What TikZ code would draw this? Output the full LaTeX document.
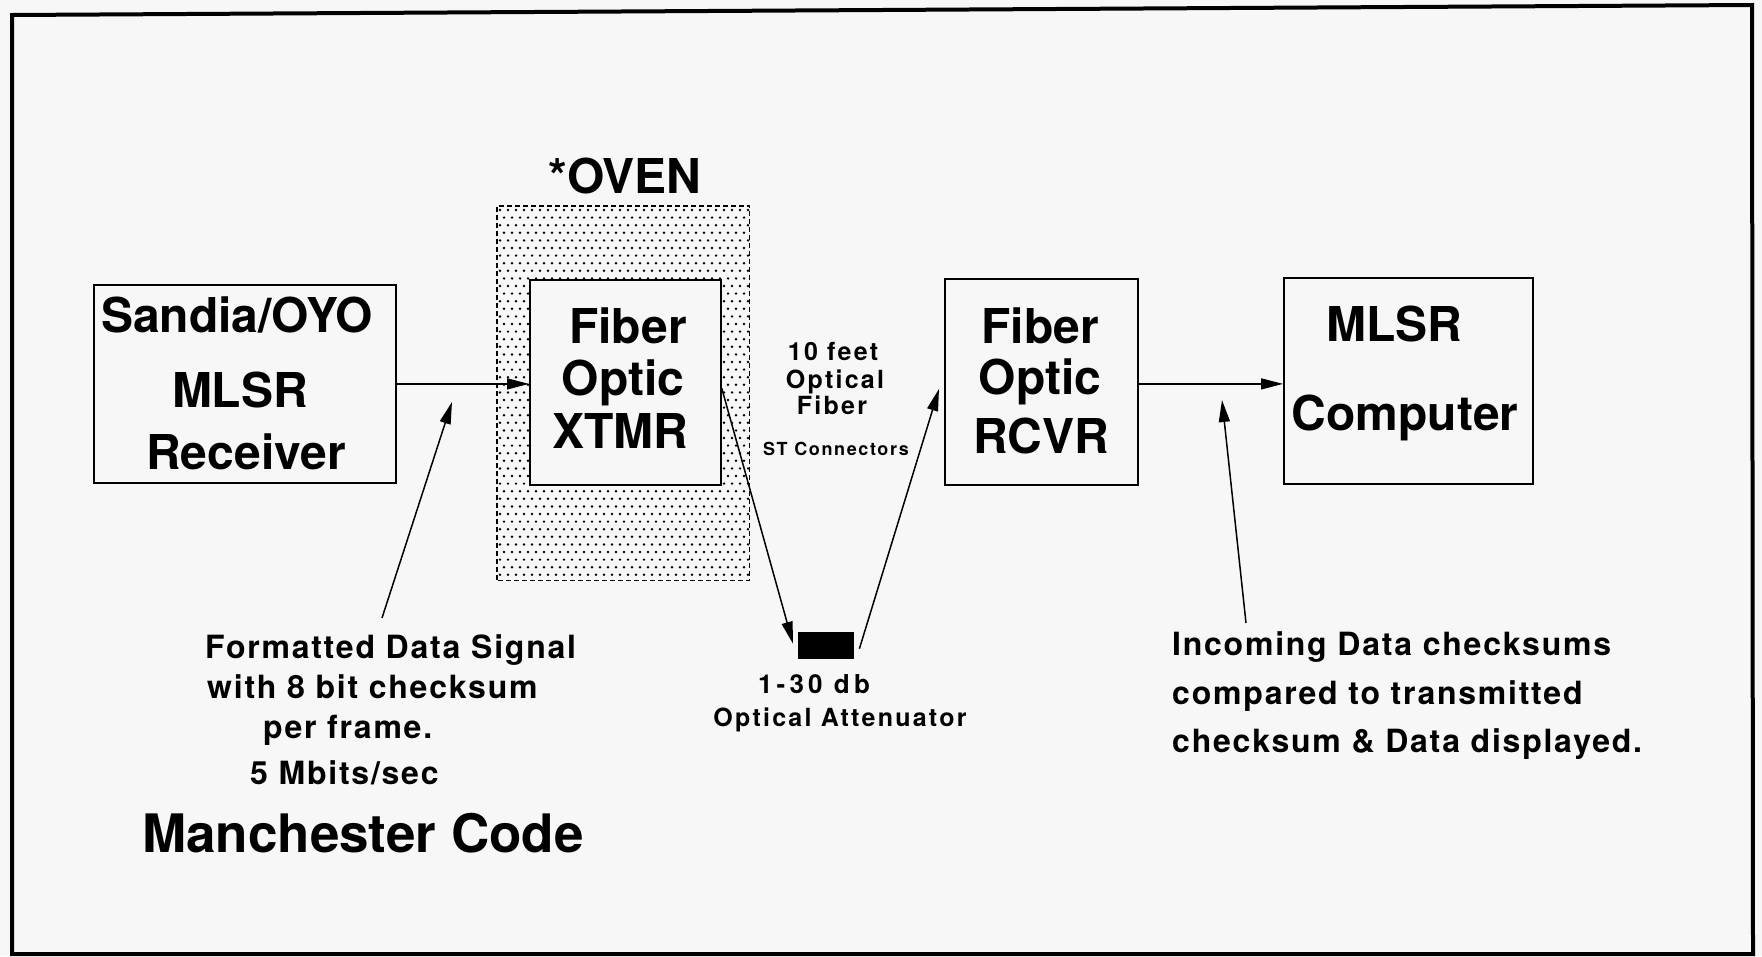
\documentclass[tikz,border=0pt]{standalone}
\usepackage{fontspec}
\setmainfont{TeX Gyre Heros}
\newfontfamily\hvm[LetterSpace=5.5]{TeX Gyre Heros}
\newfontfamily\hvs[LetterSpace=9]{TeX Gyre Heros}
\newfontfamily\hvw[LetterSpace=16]{TeX Gyre Heros}
\usetikzlibrary{arrows.meta}
\definecolor{bg}{RGB}{247,247,247}
\begin{document}
\begin{tikzpicture}[x=1pt,y=-1pt,
  blk/.style={draw, line width=1.8pt, fill=bg, inner sep=0, anchor=north west},
  big/.style={font=\fontsize{48}{52}\selectfont\bfseries, anchor=base, inner sep=0},
  note/.style={font=\hvm\fontsize{32}{36}\selectfont\bfseries, anchor=base west, inner sep=0},
  small/.style={font=\hvs\fontsize{25}{28}\selectfont\bfseries, anchor=base, inner sep=0},
  tiny/.style={font=\hvs\fontsize{18}{20}\selectfont\bfseries, anchor=base, inner sep=0},
  arr/.style={line width=1.5pt, -{Triangle[length=22pt,width=11pt]}}]
\useasboundingbox (0,0) rectangle (1762,956);
\fill[bg] (0,0) rectangle (1762,956);
\draw[line width=4pt] (12,15) -- (1752,5) -- (1753,954) -- (12,954) -- cycle;

% oven
\node[anchor=north west, inner sep=0, minimum width=252pt, minimum height=374pt, fill=bg] (oven) at (497,206) {};
\begin{scope}
\clip (oven.south west) rectangle (oven.north east);
\foreach \j [evaluate=\j as \yy using {210+7.6*\j}, evaluate=\j as \off using {4*mod(\j,2)}] in {0,...,49} {
  \foreach \i in {0,...,31} { \fill (500+8*\i+\off, \yy) circle[radius=1.35]; }
}
\end{scope}
\draw[line width=1.5pt, dash pattern=on 5pt off 3pt] (oven.south west) rectangle (oven.north east);
\node[big] (ovent) at (625,193) {*OVEN};

% blocks
\node[blk, minimum width=302pt, minimum height=198pt] (sandia) at (93,284) {};
\node[blk, minimum width=191pt, minimum height=205pt] (xtmr) at (529,279) {};
\node[blk, minimum width=193pt, minimum height=206pt] (rcvr) at (944,278) {};
\node[blk, minimum width=249pt, minimum height=206pt] (comp) at (1283,277) {};
\node[fill=black, inner sep=0, anchor=north west, minimum width=56pt, minimum height=27pt] (att) at (798,632) {};

% block texts
\node[big] (s1) at (237,332) {Sandia/OYO};
\node[big] (s2) at (240,407) {MLSR};
\node[big] (s3) at (246,469) {Receiver};
\node[big] (x1) at (628,343) {Fiber};
\node[big] (x2) at (623,395) {Optic};
\node[big] (x3) at (620,448) {XTMR};
\node[big] (r1) at (1040,343) {Fiber};
\node[big] (r2) at (1040,394) {Optic};
\node[big] (r3) at (1041,453) {RCVR};
\node[big] (c1) at (1394,341) {MLSR};
\node[big] (c2) at (1405,430) {Computer};

% middle labels
\node[small] (f1) at (833,360) {10 feet};
\node[small] (f2) at (835,388) {Optical};
\node[small] (f3) at (832,414) {Fiber};
\node[tiny] (f4) at (836,455) {ST Connectors};
\node[font=\hvw\fontsize{26}{28}\selectfont\bfseries, anchor=base, inner sep=0] (a1) at (814,693) {1-30 db};
\node[small] (a2) at (840,726) {Optical Attenuator};

% left notes
\node[note] (l1) at (205,658) {Formatted Data Signal};
\node[note] (l2) at (207,698) {with 8 bit checksum};
\node[note] (l3) at (263,738) {per frame.};
\node[note] (l4) at (250,784) {5 Mbits/sec};
\node[font=\fontsize{53}{56}\selectfont\bfseries, anchor=base west, inner sep=0] (mc) at (142,852) {Manchester Code};

% right notes
\node[note] (n1) at (1172,655) {Incoming Data checksums};
\node[note] (n2) at (1172,704) {compared to transmitted};
\node[note] (n3) at (1172,752) {checksum \& Data displayed.};

% connectors
\coordinate (lt) at (382,618);
\coordinate (lh) at (452,402);
\coordinate (rt) at (1246,623);
\coordinate (rh) at (1222,400);
\draw[arr] (sandia.east) -- (sandia.east -| xtmr.west);
\draw[arr] (lt) -- (lh);
\draw[arr] ([yshift=-6pt]xtmr.east) -- ([xshift=-5pt,yshift=2pt]att.west);
\draw[arr] ([xshift=5pt,yshift=-3pt]att.east) -- ([xshift=-5pt,yshift=-7pt]rcvr.west);
\draw[arr] ([yshift=-2pt]rcvr.east) -- ([yshift=-2pt]rcvr.east -| comp.west);
\draw[arr] (rt) -- (rh);
\end{tikzpicture}
\end{document}
